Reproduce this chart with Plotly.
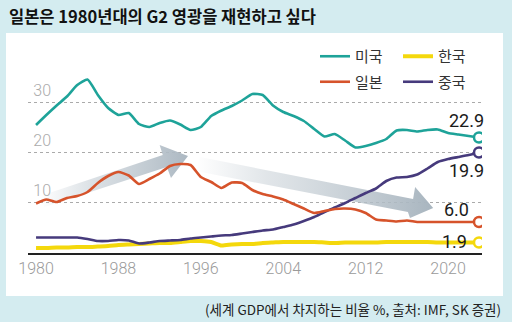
import plotly.graph_objects as go

# ---------------- data ----------------
years = list(range(1980, 2024))
us = [25.4, 27.4, 29.3, 31.1, 33.4, 34.5, 31.4, 28.8, 27.4, 27.8,
      25.6, 25.0, 25.8, 26.3, 25.5, 24.4, 25.0, 27.2, 28.3, 29.2,
      30.3, 31.6, 31.4, 29.3, 28.0, 27.2, 26.2, 24.6, 23.1, 23.6,
      22.3, 20.9, 21.2, 21.8, 22.6, 24.3, 24.4, 24.1, 24.4, 24.5,
      23.8, 23.5, 23.2, 22.9]
japan = [9.7, 10.5, 10.0, 10.8, 11.2, 12.0, 13.8, 15.2, 16.0, 15.3,
         13.6, 14.6, 15.7, 17.2, 17.6, 17.4, 15.0, 14.0, 12.8, 13.9,
         13.8, 12.4, 11.6, 11.1, 10.5, 9.6, 8.7, 7.8, 8.2, 8.6,
         8.7, 8.5, 7.8, 6.5, 6.3, 6.1, 6.3, 6.0, 6.0, 6.0,
         6.0, 6.0, 6.0, 6.0]
china = [2.9, 2.9, 2.9, 2.9, 2.9, 2.6, 2.2, 2.2, 2.4, 2.3,
         1.7, 1.9, 2.2, 2.3, 2.4, 2.7, 2.9, 3.1, 3.3, 3.4,
         3.7, 4.0, 4.3, 4.5, 5.0, 5.5, 6.2, 7.0, 8.0, 8.9,
         9.8, 10.8, 11.8, 12.7, 14.2, 14.9, 15.0, 15.5, 16.7, 18.0,
         18.6, 19.0, 19.4, 19.9]
korea = [0.8, 0.8, 0.9, 0.9, 1.0, 1.0, 1.1, 1.2, 1.4, 1.5,
         1.6, 1.7, 1.8, 1.8, 2.0, 2.2, 2.2, 2.0, 1.3, 1.5,
         1.6, 1.6, 1.8, 1.9, 2.0, 2.0, 2.0, 2.0, 1.9, 1.8,
         1.9, 1.9, 1.9, 1.9, 2.0, 2.0, 2.0, 2.0, 2.0, 1.9,
         1.9, 1.9, 1.9, 1.9]
end_labels = ["22.9", "6.0", "1.9", "19.9"]
x_ticks = [1980, 1988, 1996, 2004, 2012, 2020]
y_ticks = [10, 20, 30]

# decorative trend arrows (year, %)
arrow1_x = [1980.4, 1992.3, 1992.0, 1994.75, 1993.1, 1992.7, 1980.8, 1980.4]
arrow1_y = [11.2, 19.4, 21.4, 19.2, 14.8, 17.0, 9.0, 11.2]
arrow2_x = [1995.9, 2016.6, 2016.8, 2018.55, 2016.3, 2016.1, 1995.5, 1995.9]
arrow2_y = [19.0, 10.6, 13.0, 8.8, 6.8, 8.0, 16.2, 19.0]

# ---------------- style ----------------
C_US = "#1ea399"
C_JP = "#d6532b"
C_KR = "#f4d80c"
C_CN = "#463a7c"
BG = "#d4ecf0"
W, H = 512, 322
ML, MR, MT, MB = 28, 30, 42, 69
PW, PH = W - ML - MR, H - MT - MB

fig = go.Figure()

for ax, ay, cs in [
    (arrow1_x, arrow1_y, [[0, "rgba(190,200,208,0)"], [0.35, "rgba(190,200,208,0.55)"], [1, "rgba(172,184,194,1)"]]),
    (arrow2_x, arrow2_y, [[0, "rgba(195,204,211,0)"], [0.3, "rgba(195,204,211,0.5)"], [1, "rgba(168,181,191,1)"]]),
]:
    fig.add_trace(go.Scatter(x=ax, y=ay, mode="lines", fill="toself",
                             line=dict(width=0, color="rgba(0,0,0,0)"),
                             fillgradient=dict(type="horizontal", colorscale=cs),
                             showlegend=False, hoverinfo="skip"))

series = [
    ("미국", us, C_US, 2.6, "legend"),
    ("일본", japan, C_JP, 2.6, "legend"),
    ("한국", korea, C_KR, 4.0, "legend2"),
    ("중국", china, C_CN, 2.6, "legend2"),
]
order = [2, 3, 1, 0]  # drawing order: korea, china, japan, us
for i in order:
    name, vals, col, lw, lg = series[i]
    fig.add_trace(go.Scatter(x=years, y=vals, mode="lines", name=name,
                             line=dict(color=col, width=lw, shape="spline", smoothing=0.5),
                             legend=lg, legendrank=i, legendgroup=name, hoverinfo="skip"))

for name, vals, col, lw, lg in series:
    fig.add_trace(go.Scatter(x=[years[-1]], y=[vals[-1]], mode="markers",
                             marker=dict(size=10, color="white", line=dict(color=col, width=2.5)),
                             showlegend=False, hoverinfo="skip"))

# end value labels
lab_font = dict(family="Roboto", size=18, color="#1a1a1a")
label_pos = {0: (7, 17), 1: (-8, 13), 2: (-10, 1), 3: (7, -18)}
for k, (name, vals, col, lw, lg) in enumerate(series):
    xs, ys = label_pos[k]
    fig.add_annotation(x=years[-1], y=vals[-1], text=end_labels[k], showarrow=False,
                       xanchor="right", yanchor="middle", xshift=xs, yshift=ys,
                       font=lab_font)

# white panel
fig.add_shape(type="rect", xref="paper", yref="paper", layer="below",
              x0=(6 - ML) / PW, x1=(503 - ML) / PW,
              y0=(H - MB - 296) / PH, y1=(H - MB - 33) / PH,
              fillcolor="white", line=dict(width=0))

# title and source
fig.add_annotation(xref="paper", yref="paper", x=(7 - ML) / PW, y=(H - MB - 16) / PH,
                   text="일본은 1980년대의 G2 영광을 재현하고 싶다", showarrow=False,
                   xanchor="left", yanchor="middle",
                   font=dict(family="Noto Sans CJK KR", size=16.5, color="#111", weight=600))
fig.add_annotation(xref="paper", yref="paper", x=(503 - ML) / PW, y=(H - MB - 309) / PH,
                   text="(세계 GDP에서 차지하는 비율 %, 출처: IMF, SK 증권)", showarrow=False,
                   xanchor="right", yanchor="middle",
                   font=dict(family="Noto Sans CJK KR", size=13.5, color="#222"))

leg_common = dict(orientation="v", bgcolor="rgba(0,0,0,0)", borderwidth=0,
                  font=dict(family="Noto Sans CJK KR", size=15, color="#333"),
                  xanchor="left", yanchor="top", tracegroupgap=3)
fig.update_layout(
    width=W, height=H,
    margin=dict(l=ML, r=MR, t=MT, b=MB),
    paper_bgcolor=BG, plot_bgcolor="white",
    legend=dict(x=(315 - ML) / PW, y=(H - MB - 40) / PH, **leg_common),
    legend2=dict(x=(398 - ML) / PW, y=(H - MB - 40) / PH, **leg_common),
    xaxis=dict(range=[1979.22, 2023.29], tickvals=x_ticks, showgrid=False,
               showline=True, linecolor="#222", linewidth=1.5, ticks="",
               ticklabeloverflow="allow",
               tickfont=dict(family="Roboto", size=16, color="#9a9a9a", weight=300),
               zeroline=False, fixedrange=True),
    yaxis=dict(range=[-0.2, 42], tickvals=y_ticks, showgrid=True,
               gridcolor="#aaaaaa", griddash="dot", gridwidth=1,
               ticklabelposition="outside top", ticklabelstandoff=-24,
               ticklabeloverflow="allow", ticks="", showline=False,
               tickfont=dict(family="Roboto", size=16, color="#ababab", weight=300),
               zeroline=False, fixedrange=True),
    showlegend=True,
)

fig.write_html("out.html")
